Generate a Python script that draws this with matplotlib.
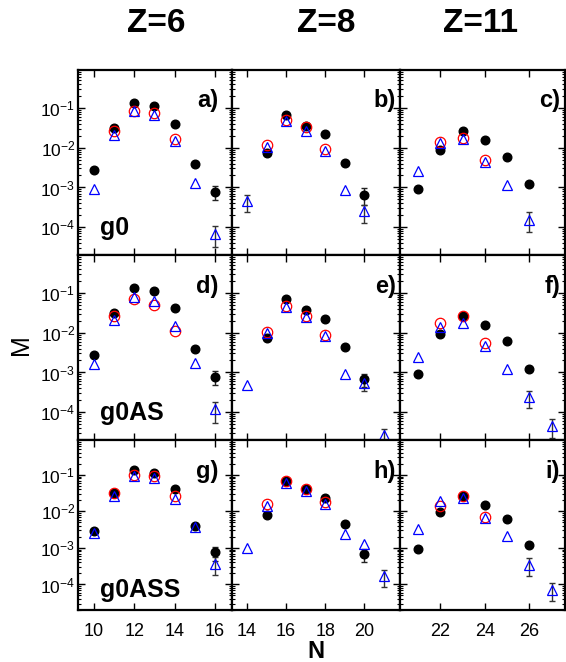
import matplotlib
matplotlib.use('Agg')
import matplotlib.pyplot as plt
import numpy as np
from matplotlib.ticker import FixedLocator, NullFormatter, LogLocator

nan = np.nan

# neutron numbers per column
n_z6 = [10, 11, 12, 13, 14, 15, 16]
n_z8 = [14, 15, 16, 17, 18, 19, 20, 21]
n_z11 = [21, 22, 23, 24, 25, 26, 27]

# panel a (Z=6, g0)
a_black = [2.8e-3, 3.2e-2, 0.134, 0.11, 0.040, 3.9e-3, 7.8e-4]
a_red = [nan, 0.026, 0.082, 0.075, 0.0166, nan, nan]
a_blue = [8.9e-4, 0.021, 0.083, 0.066, 0.0145, 1.26e-3, 6.9e-5]
a_black_err = [0, 0, 0, 0, 0, 0, 3e-4]
a_blue_err = [0, 0, 0, 0, 0, 0, 3.8e-5]

# panel d (Z=6, g0AS)
d_black = [2.8e-3, 0.032, 0.134, 0.114, 0.042, 3.9e-3, 7.9e-4]
d_red = [nan, 0.026, 0.072, 0.049, 0.0113, nan, nan]
d_blue = [1.6e-3, 0.021, 0.078, 0.064, 0.015, 1.74e-3, 1.2e-4]
d_black_err = [0, 0, 0, 0, 0, 0, 3e-4]
d_blue_err = [0, 0, 0, 0, 0, 0, 6.5e-5]

# panel g (Z=6, g0ASS)
g_black = [2.9e-3, 0.032, 0.134, 0.113, 0.042, 4.1e-3, 7.7e-4]
g_red = [nan, 0.031, 0.10, 0.096, 0.027, nan, nan]
g_blue = [2.6e-3, 0.027, 0.096, 0.083, 0.0225, 3.8e-3, 3.7e-4]
g_black_err = [0, 0, 0, 0, 0, 0, 3.2e-4]
g_blue_err = [0, 0, 0, 0, 0, 0, 1.9e-4]

# panel b (Z=8, g0)
b_black = [nan, 7.4e-3, 0.068, 0.035, 0.022, 4.2e-3, 6.6e-4, nan]
b_red = [nan, 0.012, 0.051, 0.033, 9.3e-3, nan, nan, nan]
b_blue = [4.5e-4, 0.0104, 0.048, 0.027, 8.5e-3, 8.5e-4, 2.5e-4, nan]
b_black_err = [0, 0, 0, 0, 0, 0, 3e-4, 0]
b_blue_err = [2.1e-4, 0, 0, 0, 0, 0, 1.2e-4, 0]

# panel e (Z=8, g0AS)
e_black = [nan, 7.4e-3, 0.07, 0.037, 0.022, 4.3e-3, 6.9e-4, nan]
e_red = [nan, 0.0103, 0.046, 0.027, 8.9e-3, nan, nan, nan]
e_blue = [4.9e-4, 0.0098, 0.044, 0.0245, 8.5e-3, 9.3e-4, 5.5e-4, 2.6e-5]
e_black_err = [0, 0, 0, 0, 0, 0, 2.5e-4, 0]
e_blue_err = [0, 0, 0, 0, 0, 0, 2e-4, 1.2e-5]

# panel h (Z=8, g0ASS)
h_black = [nan, 7.9e-3, 0.070, 0.040, 0.0235, 4.4e-3, 6.9e-4, nan]
h_red = [nan, 0.0155, 0.067, 0.040, 0.0179, nan, nan, nan]
h_blue = [1.0e-3, 0.0139, 0.060, 0.036, 0.0155, 2.4e-3, 1.3e-3, 1.7e-4]
h_black_err = [0, 0, 0, 0, 0, 0, 2.7e-4, 0]
h_blue_err = [0, 0, 0, 0, 0, 0, 0, 8.5e-5]

# panel c (Z=11, g0)
c_black = [9.1e-4, 8.9e-3, 0.026, 0.0154, 6.0e-3, 1.23e-3, nan]
c_red = [nan, 0.014, 0.0177, 5.0e-3, nan, nan, nan]
c_blue = [2.6e-3, 0.013, 0.017, 4.3e-3, 1.17e-3, 1.55e-4, nan]
c_black_err = [0, 0, 0, 0, 0, 0, 0]
c_blue_err = [0, 0, 0, 0, 0, 8e-5, 0]

# panel f (Z=11, g0AS)
f_black = [9.4e-4, 9.3e-3, 0.026, 0.0157, 6.1e-3, 1.25e-3, nan]
f_red = [nan, 0.0176, 0.026, 5.5e-3, nan, nan, nan]
f_blue = [2.4e-3, 0.0142, 0.018, 4.5e-3, 1.23e-3, 2.4e-4, 4.5e-5]
f_black_err = [0, 0, 0, 0, 0, 0, 0]
f_blue_err = [0, 0, 0, 0, 0, 1.1e-4, 2.3e-5]

# panel i (Z=11, g0ASS)
i_black = [9.5e-4, 9.6e-3, 0.027, 0.0154, 6.3e-3, 1.24e-3, nan]
i_red = [nan, 0.0139, 0.026, 7.1e-3, nan, nan, nan]
i_blue = [3.4e-3, 0.019, 0.0235, 6.5e-3, 2.1e-3, 3.5e-4, 7.1e-5]
i_black_err = [0, 0, 0, 0, 0, 0, 0]
i_blue_err = [0, 0, 0, 0, 0, 1.8e-4, 3.6e-5]

col_titles = ['Z=6', 'Z=8', 'Z=11']
row_models = ['g0', 'g0AS', 'g0ASS']
panel_letters = [['a)', 'b)', 'c)'], ['d)', 'e)', 'f)'], ['g)', 'h)', 'i)']]
col_n = [n_z6, n_z8, n_z11]
col_xticks = [[10, 12, 14, 16], [14, 16, 18, 20], [22, 24, 26]]
col_xlim = [(9.23, 16.83), (13.23, 21.82), (20.18, 27.6)]

panels = [
    [(a_black, a_red, a_blue, a_black_err, a_blue_err),
     (b_black, b_red, b_blue, b_black_err, b_blue_err),
     (c_black, c_red, c_blue, c_black_err, c_blue_err)],
    [(d_black, d_red, d_blue, d_black_err, d_blue_err),
     (e_black, e_red, e_blue, e_black_err, e_blue_err),
     (f_black, f_red, f_blue, f_black_err, f_blue_err)],
    [(g_black, g_red, g_blue, g_black_err, g_blue_err),
     (h_black, h_red, h_blue, h_black_err, h_blue_err),
     (i_black, i_red, i_blue, i_black_err, i_blue_err)],
]

plt.rcParams['font.family'] = ['Liberation Sans', 'DejaVu Sans']
plt.rcParams['mathtext.fontset'] = 'custom'
plt.rcParams['mathtext.rm'] = 'Liberation Sans'
plt.rcParams['mathtext.it'] = 'Liberation Sans:italic'
plt.rcParams['mathtext.bf'] = 'Liberation Sans:bold'

W, H = 566, 662
fig = plt.figure(figsize=(W / 100, H / 100), dpi=100)
row_h = [185, 185, 170]
gs = fig.add_gridspec(3, 3, left=78 / W, right=565 / W, top=1 - 70 / H, bottom=1 - 610 / H,
                      wspace=0, hspace=0, width_ratios=[154, 168, 165], height_ratios=row_h)

letter_x = [0.909, 0.976, 0.97]
model_y = [20, 20, 13]

for r in range(3):
    for c in range(3):
        ax = fig.add_subplot(gs[r, c])
        black, red, blue, black_err, blue_err = [np.array(v, dtype=float) for v in panels[r][c]]
        n = np.array(col_n[c], dtype=float)

        ax.plot(n, black, 'o', color='black', ms=6.2, zorder=3)
        m = black_err > 0
        if m.any():
            ax.errorbar(n[m], black[m], yerr=black_err[m], fmt='none', ecolor='#222222',
                        elinewidth=1, capsize=2, capthick=1, zorder=2)
        ax.plot(n, red, 'o', mfc='none', mec='red', ms=7.5, mew=0.9, zorder=4)
        ax.plot(n, blue, '^', mfc='none', mec='blue', ms=7.5, mew=0.9, zorder=5)
        m = blue_err > 0
        if m.any():
            ax.errorbar(n[m], blue[m], yerr=blue_err[m], fmt='none', ecolor='#333333',
                        elinewidth=1, capsize=2, capthick=1, zorder=2)

        ax.set_yscale('log')
        ax.set_ylim(2e-5, 0.9)
        ax.set_xlim(*col_xlim[c])
        ax.xaxis.set_major_locator(FixedLocator(col_xticks[c]))
        ax.yaxis.set_major_locator(FixedLocator([1e-4, 1e-3, 1e-2, 1e-1]))
        ax.yaxis.set_minor_locator(LogLocator(base=10, subs=np.arange(2, 10)))
        ax.yaxis.set_minor_formatter(NullFormatter())
        ax.tick_params(which='both', direction='in', top=True, right=True)
        ax.tick_params(which='major', length=5, width=1)
        ax.tick_params(which='minor', length=2.5, width=0.8)
        ax.tick_params(axis='x', labelsize=13, pad=9)
        ax.tick_params(axis='y', labelsize=12.5, pad=2)
        for sp in ax.spines.values():
            sp.set_linewidth(1.6)

        if c == 0:
            ax.set_yticklabels(['10$^{-4}$', '10$^{-3}$', '10$^{-2}$', '10$^{-1}$'])
            ax.text(0.143, model_y[r] / row_h[r], row_models[r], transform=ax.transAxes,
                    fontsize=18, fontweight='bold', ha='left', va='baseline')
        else:
            ax.set_yticklabels([])
        if r < 2:
            ax.set_xticklabels([])

        ax.text(letter_x[c], 1 - 31 / row_h[r], panel_letters[r][c], transform=ax.transAxes,
                fontsize=17, fontweight='bold', ha='right', va='center')

for x, t in zip([156, 326, 481], col_titles):
    fig.text(x / W, 1 - 23 / H, t, fontsize=24, fontweight='bold', ha='center', va='center')

fig.text(21 / W, 1 - 345 / H, 'M', fontsize=18, rotation=90, ha='center', va='center')
fig.text(316 / W, 1 - 651 / H, 'N', fontsize=17, fontweight='bold', ha='center', va='center')

plt.savefig('out.png', dpi=100)
